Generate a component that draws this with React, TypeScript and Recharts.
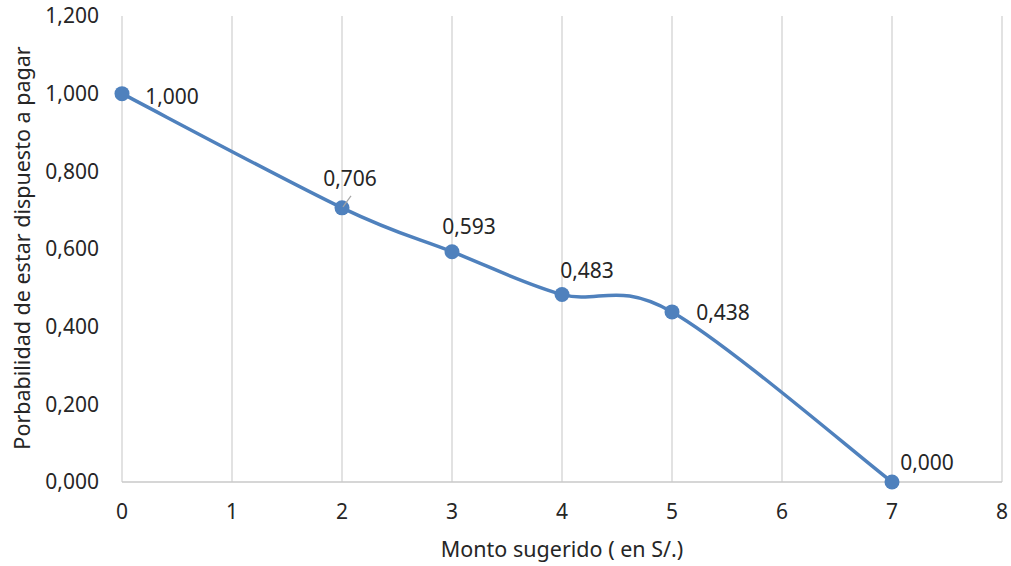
import React from 'react';
import { LineChart, Line, XAxis, YAxis, CartesianGrid, Label } from 'recharts';

const MONTOS = [0, 2, 3, 4, 5, 7];
const PROBABILIDADES = [1.0, 0.706, 0.593, 0.483, 0.438, 0.0];
const X_TICKS = [0, 1, 2, 3, 4, 5, 6, 7, 8];
const Y_TICKS = [0, 0.2, 0.4, 0.6, 0.8, 1.0, 1.2];

const data = MONTOS.map((x, i) => ({ x, y: PROBABILIDADES[i] }));

const FONT = '"Noto Sans", "Open Sans", sans-serif';
const FS = 21;
const BLUE = '#4F81BD';
const TEXT = '#262626';

// where each data label sits relative to its point (Excel placed them by hand)
const LABEL_SHIFT = [
  [50, 2],
  [8, -30],
  [17, -26],
  [25, -24],
  [51, 0],
  [35, -20],
];

const fmt = (v: number) => v.toFixed(3).replace('.', ',');

// Excel style smoothing: bezier through the points, control points at 1/6 of neighbour spread
const excelSmooth: any = (context: any) => {
  let pts: number[][] = [];
  return {
    areaStart() {},
    areaEnd() {},
    lineStart() {
      pts = [];
    },
    point(x: number, y: number) {
      pts.push([+x, +y]);
    },
    lineEnd() {
      if (!pts.length) return;
      context.moveTo(pts[0][0], pts[0][1]);
      for (let i = 0; i < pts.length - 1; i++) {
        const p0 = pts[i - 1] || pts[i];
        const p1 = pts[i];
        const p2 = pts[i + 1];
        const p3 = pts[i + 2] || pts[i + 1];
        context.bezierCurveTo(
          p1[0] + (p2[0] - p0[0]) / 6,
          p1[1] + (p2[1] - p0[1]) / 6,
          p2[0] - (p3[0] - p1[0]) / 6,
          p2[1] - (p3[1] - p1[1]) / 6,
          p2[0],
          p2[1]
        );
      }
    },
  };
};

const PointLabel = (props: any) => {
  const { x, y, value, index } = props;
  const [dx, dy] = LABEL_SHIFT[index] || [0, -20];
  return (
    <g>
      {index === 1 && (
        <line x1={x + 9} y1={y - 12} x2={x + 1} y2={y - 1} stroke="#A6A6A6" strokeWidth={1.2} />
      )}
      <text
        x={x + dx}
        y={y + dy}
        textAnchor="middle"
        dominantBaseline="central"
        fontFamily={FONT}
        fontSize={FS}
        fill={TEXT}
      >
        {fmt(value)}
      </text>
    </g>
  );
};

const YTitle = () => {
  const cx = 21;
  const cy = 248;
  return (
    <text
      x={cx}
      y={cy}
      transform={`rotate(-90 ${cx} ${cy})`}
      textAnchor="middle"
      dominantBaseline="central"
      fontFamily={FONT}
      fontSize={21.5}
      fill={TEXT}
    >
      Porbabilidad de estar dispuesto a pagar
    </text>
  );
};

export default function App() {
  return (
    <div style={{ position: 'absolute', left: 0, top: 0, width: 1011, height: 566, background: '#fff' }}>
      <LineChart width={1011} height={566} data={data} margin={{ top: 16, right: 9, left: 0, bottom: 0 }}>
        <CartesianGrid horizontal={false} stroke="#D9D9D9" strokeWidth={1.5} />
        <XAxis
          type="number"
          dataKey="x"
          domain={[0, 8]}
          ticks={X_TICKS}
          interval={0}
          height={84}
          axisLine={{ stroke: '#C8C8C8', strokeWidth: 1.5 }}
          tickLine={false}
          tickSize={6}
          tickMargin={16}
          tick={{ fontFamily: FONT, fontSize: FS, fill: TEXT }}
        >
          <Label
            value="Monto sugerido ( en S/.)"
            position="insideBottom"
            offset={9}
            style={{ fontFamily: FONT, fontSize: 21.5, fill: TEXT }}
          />
        </XAxis>
        <YAxis
          type="number"
          domain={[0, 1.2]}
          ticks={Y_TICKS}
          interval={0}
          width={122}
          axisLine={false}
          tickLine={false}
          tickSize={6}
          tickMargin={17}
          tickFormatter={fmt}
          tick={{ fontFamily: FONT, fontSize: FS, fill: TEXT }}
        >
          <Label content={YTitle} />
        </YAxis>
        <Line
          type={excelSmooth}
          dataKey="y"
          stroke={BLUE}
          strokeWidth={3.5}
          dot={{ r: 7.5, fill: BLUE, stroke: BLUE, strokeWidth: 0 }}
          activeDot={false}
          label={PointLabel}
          isAnimationActive={false}
        />
      </LineChart>
    </div>
  );
}
